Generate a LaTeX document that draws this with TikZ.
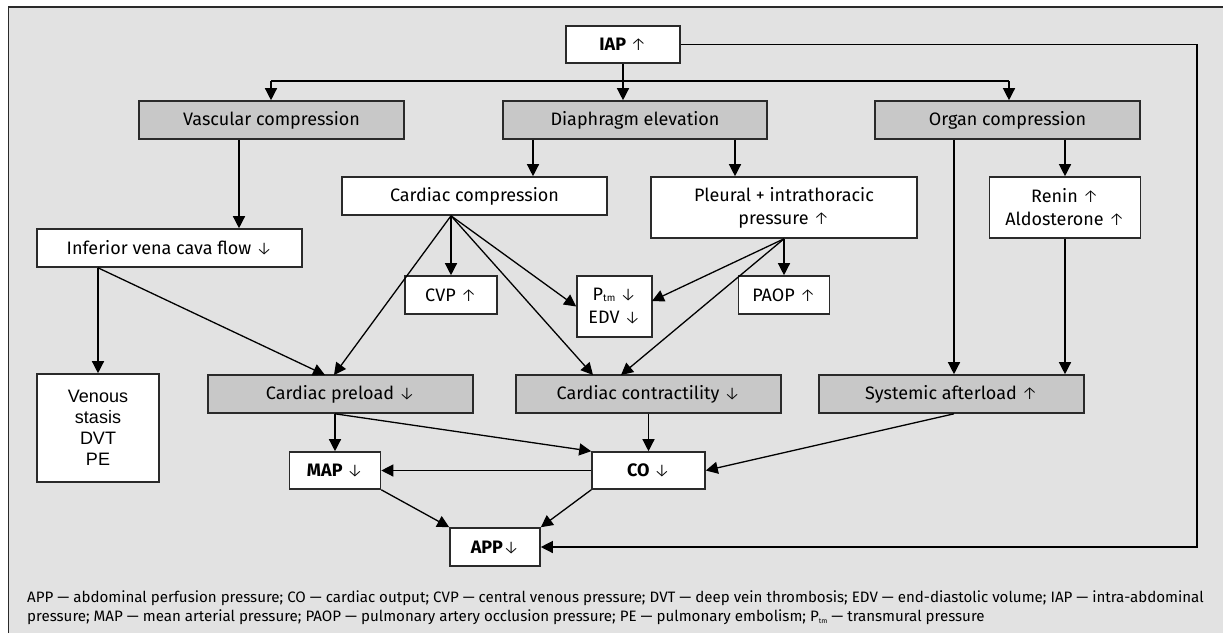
\documentclass[tikz,border=0pt]{standalone}
\usepackage{fontspec}
\setmainfont{Fira Sans}
\newfontfamily\arrf{Fira Sans Light}
\newfontfamily\arialf{Liberation Sans}
\usetikzlibrary{arrows.meta}
\newcommand\UPA{{\arrf\mdseries\char"2191}}
\newcommand\DNA{{\arrf\mdseries\char"2193}}
\newcommand\Ptm{P\raisebox{-0.5pt}{\fontsize{10}{10}\selectfont tm}}
\definecolor{bgc}{HTML}{E2E2E2}
\definecolor{gfill}{HTML}{C8C8C8}
\definecolor{bdc}{HTML}{2A2A2A}
\begin{document}
\begin{tikzpicture}[x=1pt,y=-1pt,
  box/.style={draw=bdc, line width=1.6pt, fill=white, inner sep=0pt, align=center,
    font=\fontsize{18}{23}\selectfont, text=black},
  gbox/.style={box, fill=gfill},
  arr/.style={draw=black, line width=1.3pt, -{Triangle[length=12pt,width=12pt]}},
  ln/.style={draw=black, line width=1.3pt},
  fnote/.style={anchor=base west, inner sep=0pt, font=\fontsize{15.1}{19}\selectfont, text=black}
]
\useasboundingbox (0,0) rectangle (1223,633);
\fill[bgc] (8.7,7) rectangle (1223,633);
\draw[bdc, line width=1.5pt] (8.7,633) -- (8.7,7) -- (1223,7);

% nodes
\node[box, minimum width=114pt, minimum height=37pt] (iap) at (623,44.5) {\textbf{IAP \UPA}};
\node[gbox, minimum width=265pt, minimum height=38pt] (vasc) at (271.5,120) {Vascular compression};
\node[gbox, minimum width=264pt, minimum height=38pt] (diaph) at (635,120) {Diaphragm elevation};
\node[gbox, minimum width=265pt, minimum height=38pt] (organ) at (1007.5,120) {Organ compression};
\node[box, minimum width=265pt, minimum height=38pt] (ivc) at (169.5,248) {Inferior vena cava flow \DNA};
\node[box, minimum width=265pt, minimum height=38pt] (cc) at (474.5,196) {Cardiac compression};
\node[box, minimum width=266pt, minimum height=61pt] (pleural) at (784,207.5) {Pleural + intrathoracic\\pressure \UPA};
\node[box, minimum width=151pt, minimum height=61pt] (renin) at (1065,207.5) {Renin \UPA\\Aldosterone \UPA};
\node[box, minimum width=92pt, minimum height=38pt] (cvp) at (451,295) {CVP \UPA};
\node[box, minimum width=75pt, minimum height=61pt] (ptm) at (614.5,306.5) {\Ptm\ \DNA\\EDV \DNA};
\node[box, minimum width=91pt, minimum height=38pt] (paop) at (784,295) {PAOP \UPA};
\node[box, minimum width=122pt, minimum height=108pt, font=\arialf\fontsize{18}{21}\selectfont] (venous) at (98,428) {Venous\\stasis\\DVT\\PE};
\node[gbox, minimum width=265pt, minimum height=38pt] (preload) at (340.5,394) {Cardiac preload \DNA};
\node[gbox, minimum width=265pt, minimum height=38pt] (contract) at (648.5,394) {Cardiac contractility \DNA};
\node[gbox, minimum width=265pt, minimum height=38pt] (after) at (951.5,394) {Systemic afterload \UPA};
\node[box, minimum width=91pt, minimum height=37pt] (map) at (335,470.5) {\textbf{MAP \DNA}};
\node[box, minimum width=113pt, minimum height=37pt] (co) at (648.5,470.5) {\textbf{CO \DNA}};
\node[box, minimum width=90pt, minimum height=38pt] (app) at (495,547) {\textbf{APP\DNA}};

% helper coordinates
\coordinate (brL) at (271,81);
\coordinate (brR) at (1009,81);
\coordinate (xvi) at (239,0);
\coordinate (xdc) at (533,0);
\coordinate (xdp) at (735,0);
\coordinate (xoa) at (954,0);
\coordinate (rc) at (1197,547);
\coordinate (tPre1) at (325,375);
\coordinate (tPre2) at (334,375);
\coordinate (tCon1) at (593,375);
\coordinate (tCon2) at (621,375);
\coordinate (tPtmE) at (652,301);

% connectors
\draw[ln] (brL) -- (brR);
\draw[arr] (brL) -- (vasc.north -| brL);
\draw[arr] (brR) -- (organ.north -| brR);
\draw[arr] (iap.south) -- (diaph.north -| iap.south);
\draw[arr] (iap.east) -| (rc) -- (app.east);

\draw[arr] (vasc.south -| xvi) -- (ivc.north -| xvi);
\draw[arr] (diaph.south -| xdc) -- (cc.north -| xdc);
\draw[arr] (diaph.south -| xdp) -- (pleural.north -| xdp);
\draw[arr] (organ.south -| renin.north) -- (renin.north);
\draw[arr] (organ.south -| xoa) -- (after.north -| xoa);
\draw[arr] (renin.south) -- (after.north -| renin.south);

\draw[arr] (cc.south -| cvp.north) -- (cvp.north);
\draw[arr] (cc.south -| cvp.north) -- (ptm.west);
\draw[arr] (cc.south -| cvp.north) -- (tCon1);
\draw[arr] (cc.south -| cvp.north) -- (tPre2);

\draw[arr] (pleural.south) -- (paop.north -| pleural.south);
\draw[arr] (pleural.south) -- (tPtmE);
\draw[arr] (pleural.south) -- (tCon2);

\draw[arr] (ivc.south -| venous.north) -- (venous.north);
\draw[arr] (ivc.south -| venous.north) -- (tPre1);

\draw[arr] (preload.south -| map.north) -- (map.north);
\draw[arr] (preload.south -| map.north) -- (co.north west);
\draw[arr] (contract.south) -- (co.north);
\draw[arr] (after.south -| xoa) -- (co.east);
\draw[arr] (co.west) -- (map.east);
\draw[arr] (map.south east) -- (app.north west);
\draw[arr] (co.south west) -- (app.north east);

% footnote
\node[fnote] (fn1) at (27,602) {APP — abdominal perfusion pressure; CO — cardiac output; CVP — central venous pressure; DVT — deep vein thrombosis; EDV — end-diastolic volume; IAP — intra-abdominal};
\node[fnote] (fn2) at (27,621) {pressure; MAP — mean arterial pressure; PAOP — pulmonary artery occlusion pressure; PE — pulmonary embolism; P\raisebox{-2pt}{\fontsize{7}{7}\selectfont tm} — transmural pressure};
\end{tikzpicture}
\end{document}
